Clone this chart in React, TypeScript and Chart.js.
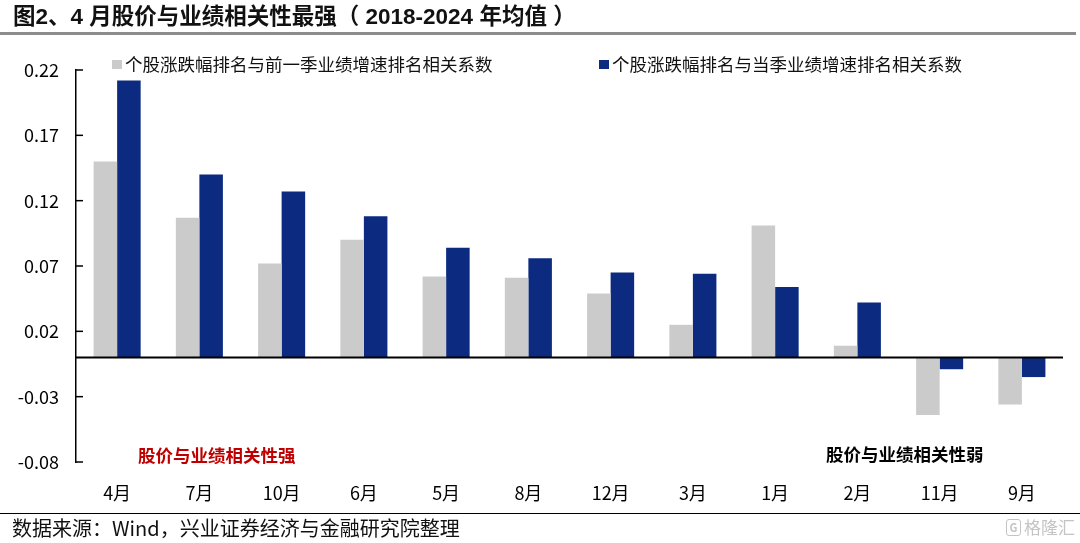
import React, { useEffect, useRef } from 'react';
import { Chart, registerables } from 'chart.js';

Chart.register(...registerables);

const categories = ['4月', '7月', '10月', '6月', '5月', '8月', '12月', '3月', '1月', '2月', '11月', '9月'];
const prevQuarterCorr = [0.150, 0.107, 0.072, 0.090, 0.062, 0.061, 0.049, 0.025, 0.101, 0.009, -0.044, -0.036];
const currQuarterCorr = [0.212, 0.140, 0.127, 0.108, 0.084, 0.076, 0.065, 0.064, 0.054, 0.042, -0.009, -0.015];
const seriesNames = ['个股涨跌幅排名与前一季业绩增速排名相关系数', '个股涨跌幅排名与当季业绩增速排名相关系数'];
const yMin = -0.08;
const yMax = 0.22;
const yStep = 0.05;
const strongLabel = '股价与业绩相关性强';
const weakLabel = '股价与业绩相关性弱';

const CJK = '"Noto Sans CJK SC", "Microsoft YaHei", sans-serif';
const GRAY = '#CBCBCB';
const BLUE = '#0B2A80';

const overlay = {
  id: 'overlay',
  afterDraw(chart: any) {
    const ctx = chart.ctx as CanvasRenderingContext2D;
    const { left, right } = chart.chartArea;
    const y = chart.scales.y;
    ctx.save();
    // zero line
    const y0 = y.getPixelForValue(0);
    ctx.strokeStyle = '#000';
    ctx.lineWidth = 2;
    ctx.beginPath();
    ctx.moveTo(left, y0);
    ctx.lineTo(right, y0);
    ctx.stroke();
    // inward tick marks
    ctx.lineWidth = 1.5;
    y.ticks.forEach((t: any) => {
      const py = y.getPixelForValue(t.value);
      ctx.beginPath();
      ctx.moveTo(left, py);
      ctx.lineTo(left + 7, py);
      ctx.stroke();
    });
    // legend
    const legendX = [112, 599];
    ctx.font = `17.5px ${CJK}`;
    ctx.textBaseline = 'middle';
    ctx.textAlign = 'left';
    chart.data.datasets.forEach((ds: any, i: number) => {
      ctx.fillStyle = ds.backgroundColor;
      ctx.fillRect(legendX[i], 60, 10, 9);
      ctx.fillStyle = '#111';
      ctx.fillText(ds.label, legendX[i] + 13, 64.5);
    });
    // annotations
    ctx.font = `bold 17.5px ${CJK}`;
    ctx.fillStyle = '#C00000';
    ctx.fillText(strongLabel, 138, 455);
    ctx.fillStyle = '#000';
    ctx.fillText(weakLabel, 826, 454);
    ctx.restore();
  },
};

export default function App() {
  const ref = useRef<HTMLCanvasElement>(null);
  useEffect(() => {
    document.body.style.margin = '0';
    const chart = new Chart(ref.current!, {
      type: 'bar',
      data: {
        labels: categories,
        datasets: [
          { label: seriesNames[0], data: prevQuarterCorr, backgroundColor: GRAY, borderWidth: 0 },
          { label: seriesNames[1], data: currQuarterCorr, backgroundColor: BLUE, borderWidth: 0 },
        ],
      },
      options: {
        responsive: false,
        animation: false,
        devicePixelRatio: 1,
        layout: { padding: { top: 70, right: 17, left: 0, bottom: 0 } },
        datasets: { bar: { categoryPercentage: 0.572, barPercentage: 1.0 } },
        plugins: { legend: { display: false }, tooltip: { enabled: false } },
        scales: {
          x: {
            grid: { display: false, drawTicks: false },
            border: { display: false },
            ticks: { color: '#000', font: { family: CJK, size: 18 }, padding: 20, maxRotation: 0 },
            afterFit: (s: any) => { s.height = 81; },
          },
          y: {
            min: yMin,
            max: yMax,
            grid: { display: true, drawTicks: false, color: 'rgba(0,0,0,0)' },
            border: { display: true, color: '#000', width: 1.5 },
            ticks: {
              stepSize: yStep,
              color: '#000',
              font: { family: CJK, size: 18 },
              padding: 17,
              callback: (v: any) => Number(v).toFixed(2),
            },
            afterFit: (s: any) => { s.width = 76; },
          },
        },
      },
      plugins: [overlay],
    });
    return () => chart.destroy();
  }, []);

  return (
    <div style={{ position: 'fixed', left: 0, top: 0, width: 1080, height: 543, background: '#fff', overflow: 'hidden' }}>
      <canvas ref={ref} width={1080} height={543} style={{ position: 'absolute', left: 0, top: 0, width: 1080, height: 543 }} />
      <div style={{ position: 'absolute', left: 13, top: 3, fontFamily: `"Liberation Sans", ${CJK}`, fontWeight: 'bold', fontSize: 22.5, color: '#111', whiteSpace: 'pre', lineHeight: '28px' }}>
        图2、4 月股价与业绩相关性最强（ 2018-2024 年均值 ）
      </div>
      <div style={{ position: 'absolute', left: 0, top: 32, width: 1076, height: 3, background: '#8C8C8C' }} />
      <div style={{ position: 'absolute', left: 0, top: 512.5, width: 1080, height: 1.5, background: '#000' }} />
      <div style={{ position: 'absolute', left: 12, top: 514, fontFamily: CJK, fontSize: 20, color: '#111', whiteSpace: 'nowrap', lineHeight: '28px' }}>
        数据来源：Wind，兴业证券经济与金融研究院整理
      </div>
      <div style={{ position: 'absolute', right: 5, top: 517, display: 'flex', alignItems: 'center', gap: 3, fontFamily: CJK, fontSize: 17, color: '#C4C4C4', whiteSpace: 'nowrap', lineHeight: '20px' }}>
        <span style={{ display: 'inline-block', width: 13, height: 15, border: '1.5px solid #C4C4C4', borderRadius: 3, fontSize: 11, lineHeight: '15px', textAlign: 'center', fontWeight: 'bold' }}>G</span>
        <span>格隆汇</span>
      </div>
    </div>
  );
}
